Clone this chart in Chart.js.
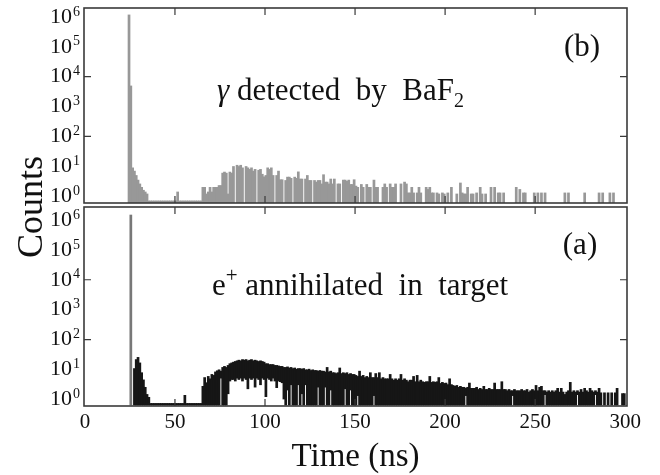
<!DOCTYPE html>
<html>
<head>
<meta charset="utf-8">
<title>Counts vs time</title>
<script src="https://cdn.jsdelivr.net/npm/chart.js@4.4.0/dist/chart.umd.min.js"></script>
<style>
  html, body { margin: 0; padding: 0; background: #fff; }
  #wrap { position: relative; width: 660px; height: 475px; }
  #wrap canvas { position: absolute; left: 0; top: 0; }
</style>
</head>
<body>
<div id="wrap">
  <canvas id="topChart" width="660" height="475"></canvas>
  <canvas id="bottomChart" width="660" height="475"></canvas>
</div>
<script>
// x ticks (ns) and y decades
const xTicks = [0, 50, 100, 150, 200, 250, 300];
const decades = [0, 1, 2, 3, 4, 5, 6];

// (b) gamma detected by BaF2 - counts per 1 ns bin, bins 0..299
const topHi = [
  0, 0, 0, 0, 0, 0, 0, 0, 0, 0,
  0, 0, 0, 0, 0, 0, 0, 0, 0, 0,
  0, 0, 0, 0, 1.2e6, 5000, 9, 7, 5, 3.5,
  2.6, 2, 1.6, 1.4, 1.2, 0.7, 0.7, 0.7, 0.7, 0.7,
  0.7, 0.7, 0.7, 0.7, 0.7, 0.7, 0.7, 0.7, 0.7, 0.7,
  0.7, 1.4, 0.7, 0.7, 0.7, 0.7, 0.7, 0.7, 0.7, 0.7,
  0.7, 0.7, 0.7, 0.7, 0.7, 2, 2, 1.2, 1.4, 2,
  1.4, 2, 2, 2, 2.3, 2.3, 6, 6.5, 6, 1.2,
  6.5, 6, 10, 0, 11, 10, 11, 9, 0, 10,
  9, 8, 9, 7, 8, 0, 7.5, 8, 5.5, 4.5,
  5, 9, 8, 9, 5, 0, 5, 7, 3.6, 3.6,
  0, 3.4, 4.4, 4.4, 4, 0, 4.4, 4, 6.6, 3.8,
  3.8, 0, 3.8, 5, 3.4, 3.4, 0, 3.4, 3, 3.4,
  3.4, 2.6, 5.3, 3, 3, 2.6, 3.8, 2.6, 3.8, 0,
  2.6, 2.6, 0, 3.5, 3.5, 3.2, 3.5, 2.5, 2.5, 3.6,
  2.2, 2, 0, 2.5, 2, 0, 2.5, 2, 2, 0,
  3.5, 2, 2, 0, 0, 2, 2.6, 2, 0, 2.6,
  2, 2, 2.6, 0, 0, 2.6, 0, 3, 2.6, 1.3,
  1.3, 2, 1.3, 0, 1.3, 2, 1.3, 0, 0, 2,
  1.7, 2, 1.3, 1.3, 0, 1.3, 1.2, 0, 1.3, 1.2,
  0, 1.3, 0, 2, 0, 0, 1.2, 0, 2.8, 1.3,
  1.2, 1.2, 2, 0, 1.2, 1.2, 0, 1.3, 0, 2,
  1.2, 0, 1.2, 0, 0, 2, 0, 2, 0, 1.3,
  1.3, 0, 1.3, 0, 0, 0, 0, 0, 0, 2,
  0, 1.7, 0, 1.3, 1.3, 0, 0, 0, 0, 1.3,
  0, 1.3, 0, 1.3, 0, 1.3, 0, 0, 0, 0,
  0, 0, 0, 0, 0, 0, 1.3, 0, 1.3, 0,
  0, 0, 0, 0, 0, 0, 0, 1.3, 0, 0,
  0, 0, 0, 0, 0, 1.3, 0, 1.3, 0, 0,
  0, 1.3, 0, 1.3, 0, 0, 0, 0, 0, 0
];

// (a) e+ annihilated in target - upper and lower edge of the trace per 1 ns bin
const botHi = [
  0, 0, 0, 0, 0, 0, 0, 0, 0, 0,
  0, 0, 0, 0, 0, 0, 0, 0, 0, 0,
  0, 0, 0, 0, 0, 1.5e6, 0, 11, 22, 26,
  17, 8, 4.6, 2.6, 1.5, 1.2, 0.75, 0.75, 0.75, 0.75,
  0.75, 0.75, 0.75, 0.75, 0.75, 0.75, 0.75, 0.75, 0.75, 0.75,
  0.75, 0.75, 0.75, 0.75, 0.75, 1.4, 0.75, 0.75, 0.75, 0.75,
  0.75, 0.75, 0.75, 0.75, 0.75, 2.8, 5.5, 3.7, 6, 5,
  7, 6.5, 8.5, 9.3, 10, 9, 12, 13, 12, 14,
  16, 17, 18, 19, 20, 21, 20, 22, 21, 22,
  20, 21, 22, 20, 21, 20, 19, 20, 19, 18,
  16, 16, 15, 15, 15, 14, 14, 13.5, 13, 13,
  12, 12, 12.5, 11.5, 12, 11, 11.5, 10.5, 11, 11,
  10.5, 11, 10, 10, 10.5, 9.5, 10, 9.5, 9.5, 9,
  9.5, 9, 9, 8.5, 12, 8.5, 9, 8, 8, 7.5,
  8, 11.5, 7.5, 8, 7.5, 8, 7, 7.5, 7, 7,
  6.5, 6, 9, 6, 6.5, 5.5, 6, 5.5, 8, 5.5,
  5.5, 7.5, 5.5, 8, 5, 5.5, 5, 5, 5, 7,
  5, 4.5, 5, 4.5, 5, 7, 4.5, 5, 4.5, 4,
  4.5, 4.5, 6, 4, 6.5, 4, 4.5, 4, 3.8, 4,
  4, 6, 3.8, 4, 3.8, 4, 5.5, 3.5, 3.8, 3.5,
  3.6, 3.2, 5, 3.2, 3, 2.8, 3, 2.6, 2.8, 2.6,
  2.6, 2.4, 2.6, 3.6, 2.4, 2.4, 2.4, 2.6, 2.2, 2.4,
  2.2, 2.8, 2.2, 2.2, 2.4, 2.2, 2.2, 3.6, 2.2, 2.2,
  2.2, 4, 2.2, 2.2, 2, 2.2, 2, 2, 2.2, 2,
  2, 2, 2.2, 2, 2, 2.2, 1.8, 2, 2.2, 2,
  3, 2, 2.6, 2.8, 2, 2, 1.8, 2, 1.8, 2,
  1.8, 2, 2.4, 1.8, 2.4, 1.8, 1.5, 1.8, 2, 3.8,
  1.8, 2, 1.8, 2, 1.8, 2.2, 1.8, 2.4, 2, 1.8,
  2.4, 2, 1.8, 2, 1.8, 2.4, 1.7, 0, 1.7, 0,
  1.7, 0, 1.7, 0, 1.7, 2.4, 0, 0, 1.6, 1.6
];

const botLo = [
  0, 0, 0, 0, 0, 0, 0, 0, 0, 0,
  0, 0, 0, 0, 0, 0, 0, 0, 0, 0,
  0, 0, 0, 0, 0, 0, 0, 0, 0, 0,
  0, 0, 0, 0, 0, 0, 0, 0, 0, 0,
  0, 0, 0, 0, 0, 0, 0, 0, 0, 0,
  0, 0, 0, 0, 0, 0, 0, 0, 0, 0,
  0, 0, 0, 0, 0, 0, 0, 0, 0, 0,
  0, 0, 0, 0, 0, 5, 0, 0, 0, 1.5,
  4, 4.5, 4.5, 4, 5, 4.5, 5, 4, 5, 4.5,
  2.2, 5, 4.5, 5, 2.5, 5, 4.5, 3, 5, 4.5,
  1.2, 5, 4.5, 4, 5, 4, 2.4, 4, 3.8, 3.5,
  1, 0, 2, 0, 3, 0, 0, 0, 3, 0,
  1.5, 0, 3, 0, 0, 0, 0, 0, 0, 2.5,
  0, 0, 0, 2.5, 0, 0, 2, 0, 0, 0,
  0, 0, 0, 0, 2.2, 0, 0, 2, 0, 0,
  0, 1.3, 0, 0, 0, 0, 0, 0, 0, 0,
  1.3, 0, 0, 0, 0, 0, 0, 0, 0, 0,
  0, 0, 0, 0, 0, 0, 0, 0, 0, 0,
  0, 0, 0, 0, 0, 0, 0, 0, 0, 0,
  0, 0, 0, 0, 0, 0, 0, 0, 0, 0,
  0, 0, 0, 0, 0, 0, 0, 0, 0, 0,
  0, 1.3, 0, 0, 0, 0, 0, 0, 0, 0,
  0, 0, 0, 0, 0, 0, 0, 0, 0, 0,
  0, 0, 0, 0, 0, 0, 0, 1.3, 0, 0,
  0, 0, 0, 0, 0, 0, 0, 0, 0, 0,
  0, 0, 0, 0, 0, 1.4, 0, 0, 0, 0,
  0, 0, 0, 0, 0, 0, 0, 0, 0, 0,
  0, 0, 0, 1.4, 0, 0, 0, 0, 0, 0,
  0, 0, 0, 1.4, 0, 0, 0, 0, 0, 0,
  0, 0, 0, 0, 0, 0, 0, 0, 0, 0
];

const X_MIN = -0.5, X_MAX = 301;
const TOP_Y = [Math.pow(10, -0.235), Math.pow(10, 6.30)];
const BOT_Y = [Math.pow(10, -0.2), Math.pow(10, 6.433)];
const SERIF = '"Liberation Serif", "Times New Roman", serif';

/**
 * Turn hi/lo arrays into floating bars, one per 1 ns bin
 */
function toBars(hi, lo, yMin) {
    const bars = [];
    hi.forEach((h, i) => {
        if (!h) return;
        const l = lo && lo[i] ? lo[i] : yMin;
        bars.push({ x: i + 0.5, y: [l, h] });
    });
    return bars;
}

// draws a run of text pieces (normal / italic / sub / superscript) one after another
function drawRuns(ctx, note) {
    let x = note.x;
    if (note.align === 'center') {
        let w = 0;
        note.runs.forEach(r => {
            ctx.font = `${r.italic ? 'italic ' : ''}${r.size || note.size}px ${SERIF}`;
            w += ctx.measureText(r.t).width;
        });
        x -= w / 2;
    }
    ctx.textAlign = 'left';
    ctx.textBaseline = 'alphabetic';
    note.runs.forEach(r => {
        ctx.font = `${r.italic ? 'italic ' : ''}${r.size || note.size}px ${SERIF}`;
        ctx.fillText(r.t, x, note.y + (r.dy || 0));
        x += ctx.measureText(r.t).width;
    });
}

const panelPlugin = {
    id: 'panel',
    afterDraw(chart, args, opts) {
        const { ctx, chartArea: a } = chart;
        const x = chart.scales.x, y = chart.scales.y;
        ctx.save();

        // frame
        ctx.strokeStyle = '#3a3a3a';
        ctx.lineWidth = 1.6;
        ctx.strokeRect(a.left, a.top, a.right - a.left, a.bottom - a.top);

        // inward ticks
        ctx.lineWidth = 1.2;
        ctx.beginPath();
        xTicks.slice(1, -1).forEach(v => {
            const px = x.getPixelForValue(v);
            ctx.moveTo(px, a.top); ctx.lineTo(px, a.top + 7);
            ctx.moveTo(px, a.bottom); ctx.lineTo(px, a.bottom - 7);
        });
        [2, 4].forEach(d => {
            const py = y.getPixelForValue(Math.pow(10, d));
            ctx.moveTo(a.left, py); ctx.lineTo(a.left + 7, py);
            ctx.moveTo(a.right, py); ctx.lineTo(a.right - 7, py);
        });
        ctx.stroke();

        // y tick labels 10^n
        ctx.fillStyle = '#111';
        decades.forEach(d => {
            const py = y.getPixelForValue(Math.pow(10, d));
            ctx.font = `22px ${SERIF}`;
            ctx.textAlign = 'right';
            ctx.textBaseline = 'middle';
            ctx.fillText('10', 72, py);
            ctx.font = `14px ${SERIF}`;
            ctx.textAlign = 'left';
            ctx.fillText(String(d), 73, py - 5);
        });

        (opts.notes || []).forEach(n => drawRuns(ctx, n));

        if (opts.xAxis) {
            ctx.font = `21px ${SERIF}`;
            ctx.textAlign = 'center';
            ctx.textBaseline = 'middle';
            xTicks.forEach(v => ctx.fillText(String(v), x.getPixelForValue(v), 422));

            ctx.font = `33px ${SERIF}`;
            ctx.textBaseline = 'alphabetic';
            ctx.fillText('Time (ns)', (a.left + a.right) / 2, 466);

            ctx.save();
            ctx.translate(42, 207);
            ctx.rotate(-Math.PI / 2);
            ctx.font = `36px ${SERIF}`;
            ctx.fillText('Counts', 0, 0);
            ctx.restore();
        }
        ctx.restore();
    }
};

function makeChart(id, bars, yRange, padding, color, panelOpts) {
    return new Chart(document.getElementById(id), {
        type: 'bar',
        data: {
            datasets: [{
                data: bars,
                backgroundColor: color,
                borderWidth: 0,
                barPercentage: 1.5,
                categoryPercentage: 1,
                grouped: false
            }]
        },
        options: {
            responsive: false,
            animation: false,
            devicePixelRatio: 1,
            layout: { padding },
            plugins: {
                legend: { display: false },
                tooltip: { enabled: false },
                panel: panelOpts
            },
            scales: {
                x: { type: 'linear', min: X_MIN, max: X_MAX, offset: false, display: false },
                y: { type: 'logarithmic', min: yRange[0], max: yRange[1], display: false }
            }
        },
        plugins: [panelPlugin]
    });
}

makeChart('topChart', toBars(topHi, null, TOP_Y[0]), TOP_Y,
    { top: 8, left: 84, right: 33, bottom: 272 },
    'rgb(152,152,152)',
    {
        notes: [
            { x: 582, y: 56, size: 31, align: 'center', runs: [{ t: '(b)' }] },
            { x: 217, y: 100, size: 31, runs: [{ t: 'γ', italic: true }, { t: ' detected  by  BaF' }, { t: '2', size: 20, dy: 7 }] }
        ]
    });

makeChart('bottomChart', toBars(botHi, botLo, BOT_Y[0]), BOT_Y,
    { top: 207, left: 84, right: 33, bottom: 69 },
    ctx => (ctx.raw && ctx.raw.y[1] > 1000) ? 'rgb(120,120,120)' : 'rgb(22,22,22)',
    {
        xAxis: true,
        notes: [
            { x: 580, y: 254, size: 31, align: 'center', runs: [{ t: '(a)' }] },
            { x: 212, y: 295, size: 31, runs: [{ t: 'e' }, { t: '+', size: 21, dy: -13 }, { t: ' annihilated  in  target' }] }
        ]
    });
</script>
</body>
</html>
